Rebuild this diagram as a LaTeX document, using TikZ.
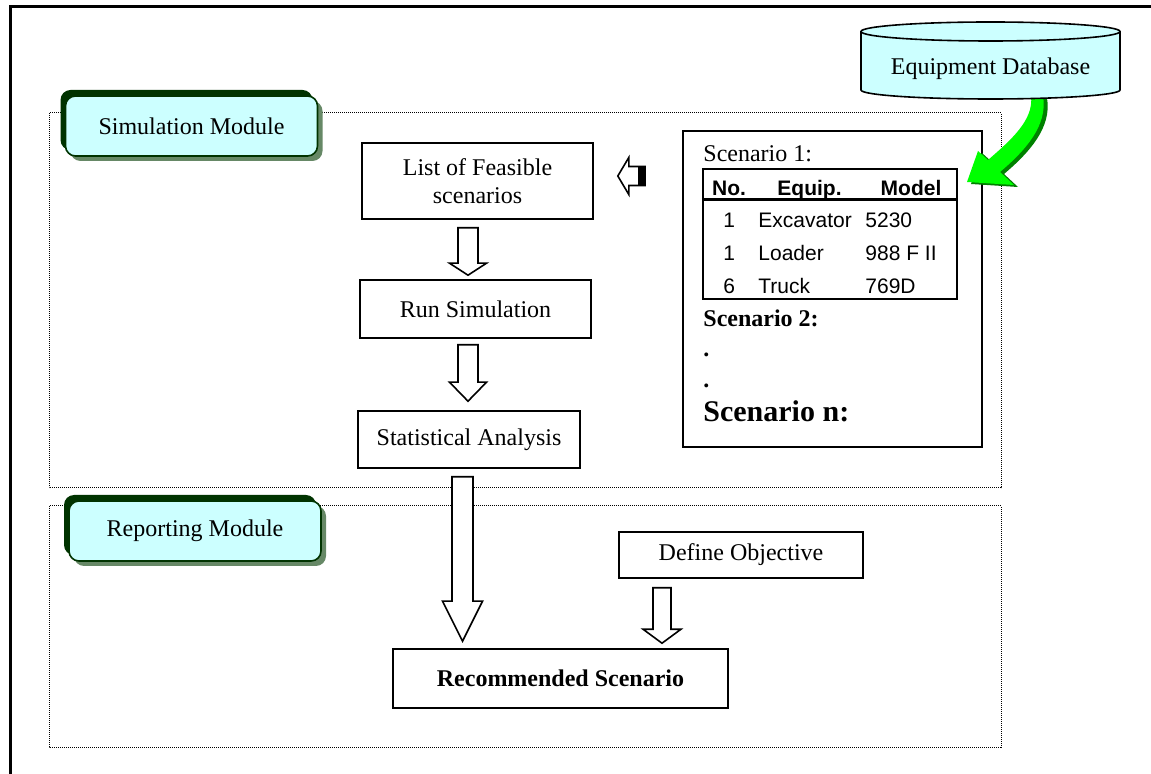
\documentclass[tikz,border=0pt]{standalone}
\usepackage{fontspec}
\setmainfont{Liberation Serif}
\newfontfamily\tablefont{Liberation Sans}
\usetikzlibrary{calc, shadows, positioning}
\definecolor{modcyan}{HTML}{CCFFFF}
\definecolor{modgreen}{HTML}{003300}
\definecolor{modshade}{HTML}{668866}
\definecolor{arrowgreen}{HTML}{00FF00}
\definecolor{arrowdark}{HTML}{008000}
\tikzset{
  module/.style={
    draw=black, line width=0.5pt, dash pattern=on 0.5pt off 0.5pt
  },
  modlabel/.style={
    rectangle, rounded corners=5pt, minimum width=126pt, minimum height=30pt,
    inner sep=0pt, text centered, draw=modgreen, line width=0.8pt, fill=modcyan,
    font=\fontsize{12}{14}\selectfont,
    general shadow={fill=modshade, shadow xshift=2.5pt, shadow yshift=-2.5pt},
    general shadow={fill=modgreen, shadow xshift=-2.5pt, shadow yshift=3pt}
  },
  stepbox/.style={
    rectangle, inner sep=0pt, align=center, draw=black, line width=0.8pt,
    fill=white, font=\fontsize{12}{14}\selectfont
  },
  hollow/.style={
    draw=black, line width=0.8pt, fill=white, line join=miter
  },
  scentext/.style={inner sep=0pt, anchor=base west, font=\fontsize{12}{14}\selectfont},
  tabhead/.style={inner sep=0pt, anchor=base, font=\tablefont\bfseries\fontsize{10.5}{12}\selectfont},
  tabcell/.style={inner sep=0pt, anchor=base west, font=\tablefont\fontsize{10.5}{12}\selectfont}
}
% hollow block arrow pointing down: from, to, shaft half, head half, head length
\newcommand{\hollowdown}[5]{%
  \draw[hollow] let \p1=#1, \p2=#2 in
    (\x1-#3,\y1) -- (\x1+#3,\y1) -- (\x1+#3,\y2+#5) -- (\x1+#4,\y2+#5) -- (\x1,\y2)
    -- (\x1-#4,\y2+#5) -- (\x1-#3,\y2+#5) -- cycle;
}

\begin{document}
\begin{tikzpicture}[x=0.5pt, y=-0.5pt]
  \useasboundingbox (0,0) rectangle (1151,774);

  % Outer frame
  \draw[line width=1.5pt] (10,774) -- (10,6.5) -- (1151,6.5);

  % Module frames
  \draw[module] (49,113) rectangle (1001,488);
  \draw[module] (49,506) rectangle (1001,747);
  \node[modlabel] (simlabel) at (191.5,126) {Simulation Module};
  \node[modlabel] (replabel) at (195,531) {Reporting Module};

  % Simulation steps
  \node[stepbox, minimum width=115.5pt, minimum height=38pt] (list) at (477.5,181) {List of Feasible\\scenarios};
  \node[stepbox, minimum width=115.5pt, minimum height=29pt] (run) at (475.5,309) {Run Simulation};
  \node[stepbox, minimum width=111pt, minimum height=28.5pt] (stat) at (469,439.5) {Statistical Analysis};

  % Reporting steps
  \node[stepbox, minimum width=122pt, minimum height=23pt] (obj) at (741,555) {Define Objective};
  \node[stepbox, minimum width=167.5pt, minimum height=29.5pt, font=\bfseries\fontsize{12}{14}\selectfont] (rec) at (560.5,678.5) {Recommended Scenario};

  % Block arrows
  \hollowdown{($(list.south)+(-9.5,8)$)}{($(run.north)+(0,-4)$)}{5pt}{9.25pt}{6pt}
  \hollowdown{($(run.south)+(-7.5,6)$)}{($(stat.north)+(0,-9)$)}{5pt}{9.25pt}{9.5pt}
  \hollowdown{($(stat.south)+(-6.5,8)$)}{($(rec.north)+(0,-7)$)}{5.25pt}{10pt}{20pt}
  \hollowdown{($(obj.south)+(-79,9)$)}{($(rec.north)+(0,-5)$)}{4.5pt}{9.5pt}{7pt}

  % Scenario list
  \node[draw, line width=1pt, minimum width=149.5pt, minimum height=158pt] (scen) at (832.5,289) {};
  \draw[hollow] let \p1=($(scen.west)+(-37,0)$), \p2=($(list.east)+(24,-5)$) in
    (\x1,\y2+4.75pt) -- (\x2+5.5pt,\y2+4.75pt) -- (\x2+5.5pt,\y2+9.25pt) -- (\x2,\y2)
    -- (\x2+5.5pt,\y2-9.25pt) -- (\x2+5.5pt,\y2-4.75pt) -- (\x1,\y2-4.75pt) -- cycle;
  \fill let \p1=($(scen.west)+(-37,0)$), \p2=($(list.east)+(24,-5)$) in
    (\x1-3.5pt,\y2+5pt) rectangle (\x1,\y2-5pt);

  \node[scentext] (sc1) at (703,162) {Scenario 1:};
  \node[draw, line width=1.25pt, minimum width=127pt, minimum height=65pt] (tbl) at (830,234) {};
  \draw[line width=1.25pt] ($(tbl.north west)+(0,32)$) -- ($(tbl.north east)+(0,32)$);
  \node[tabhead] (hno) at (729,196) {No.};
  \node[tabhead] (hequip) at (809.5,196) {Equip.};
  \node[tabhead] (hmodel) at (911,196) {Model};
  \node[tabcell] (n1) at (723,228) {1};
  \node[tabcell] (e1) at (758,228) {Excavator};
  \node[tabcell] (m1) at (865,228) {5230};
  \node[tabcell] (n2) at (723,261) {1};
  \node[tabcell] (e2) at (758,261) {Loader};
  \node[tabcell] (m2) at (865,261) {988 F II};
  \node[tabcell] (n3) at (723,294) {6};
  \node[tabcell] (e3) at (758,294) {Truck};
  \node[tabcell] (m3) at (865,294) {769D};
  \node[scentext, font=\bfseries\fontsize{12}{14}\selectfont] (sc2) at (703,327) {Scenario 2:};
  \node[scentext, font=\bfseries\fontsize{12}{14}\selectfont] (dot1) at (703,357) {.};
  \node[scentext, font=\bfseries\fontsize{12}{14}\selectfont] (dot2) at (703,388) {.};
  \node[scentext, font=\bfseries\fontsize{15}{17}\selectfont] (scn) at (703,422) {Scenario n:};

  % Green arrow from the database
  \foreach \dx/\dy/\col in {4/2/arrowdark, 0/0/arrowgreen}{
    \fill[\col, shift={(\dx,\dy)}] (1031,96) -- (1043,96)
      .. controls (1048,125) and (1026,150) .. (1000,172) -- (1014,185) -- (967,182)
      -- (978,151) -- (988,160) .. controls (1011,140) and (1034,120) .. cycle;
  }

  % Equipment database
  \draw[fill=modcyan, line width=0.8pt] (861,31.5) -- (861,90)
    arc[start angle=180, end angle=360, x radius=64.75pt, y radius=4.5pt]
    -- (1120,31.5) arc[start angle=0, end angle=180, x radius=64.75pt, y radius=4.75pt] -- cycle;
  \draw[line width=0.8pt] (861,31.5) arc[start angle=180, end angle=360, x radius=64.75pt, y radius=4.75pt];
  \node[inner sep=0pt, font=\fontsize{12}{14}\selectfont] (db) at (990.5,69) {Equipment Database};
\end{tikzpicture}
\end{document}
